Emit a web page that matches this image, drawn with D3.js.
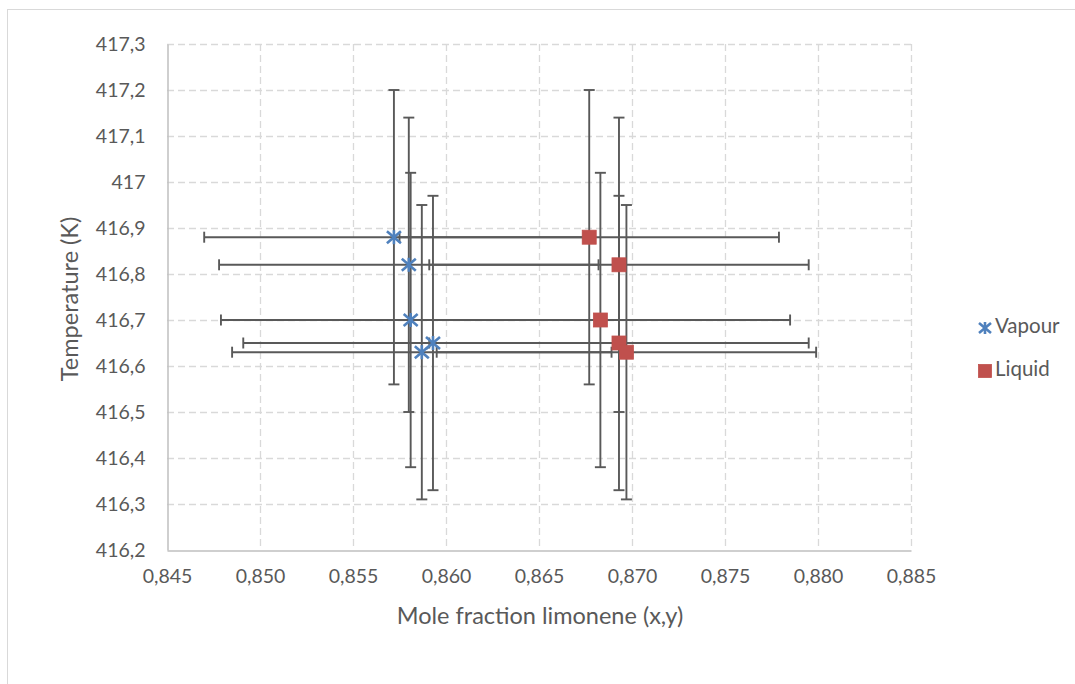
<!DOCTYPE html>
<html>
<head>
<meta charset="utf-8">
<script src="https://cdn.jsdelivr.net/npm/d3@7/dist/d3.min.js"></script>
<style>
  html, body { margin: 0; padding: 0; background: #ffffff; }
  svg { display: block; }
  text { font-family: Lato, "Open Sans", sans-serif; fill: #595959; }
</style>
</head>
<body>
<svg id="chart" width="1075" height="684"></svg>
<script>
// Equilibrium measurements: temperature with vapour / liquid mole fractions
const temperature = [416.88, 416.82, 416.70, 416.65, 416.63];
const vapourX = [0.8572, 0.8580, 0.8581, 0.8593, 0.8587];
const liquidX = [0.8677, 0.8693, 0.8683, 0.8693, 0.8697];
const xError = 0.0102;   // ± on mole fraction
const tError = 0.32;     // ± on temperature (K)

const xTicks = [0.845, 0.850, 0.855, 0.860, 0.865, 0.870, 0.875, 0.880, 0.885];
const xTickLabels = ["0,845", "0,850", "0,855", "0,860", "0,865", "0,870", "0,875", "0,880", "0,885"];
const yTicks = [416.2, 416.3, 416.4, 416.5, 416.6, 416.7, 416.8, 416.9, 417.0, 417.1, 417.2, 417.3];
const yTickLabels = ["416,2", "416,3", "416,4", "416,5", "416,6", "416,7", "416,8", "416,9", "417", "417,1", "417,2", "417,3"];

const seriesNames = ["Vapour", "Liquid"];
const seriesColors = ["#4f81bd", "#c0504d"];

const svg = d3.select("#chart");

// outer chart frame
svg.append("rect")
  .attr("x", 7.5).attr("y", 9.5)
  .attr("width", 1200).attr("height", 800)
  .attr("fill", "#ffffff").attr("stroke", "#d9d9d9").attr("stroke-width", 1);

const plot = { left: 167, right: 911, top: 44, bottom: 550 };

const x = d3.scaleLinear().domain([0.845, 0.885]).range([plot.left, plot.right]);
const y = d3.scaleLinear().domain([416.2, 417.3]).range([plot.bottom, plot.top]);

// gridlines
const grid = svg.append("g").attr("stroke", "#d9d9d9").attr("stroke-width", 1.3)
  .attr("stroke-dasharray", "7,4").attr("fill", "none");
grid.selectAll("line.h").data(yTicks.slice(1)).join("line")
  .attr("x1", plot.left).attr("x2", plot.right)
  .attr("y1", d => Math.round(y(d)) + 0.5).attr("y2", d => Math.round(y(d)) + 0.5);
grid.selectAll("line.v").data(xTicks.slice(1)).join("line")
  .attr("y1", plot.top).attr("y2", plot.bottom)
  .attr("x1", d => Math.round(x(d)) + 0.5).attr("x2", d => Math.round(x(d)) + 0.5);

// axes
const yAxis = d3.axisLeft(y).tickValues(yTicks)
  .tickFormat((d, i) => yTickLabels[i]).tickSize(0).tickPadding(22);
const xAxis = d3.axisBottom(x).tickValues(xTicks)
  .tickFormat((d, i) => xTickLabels[i]).tickSize(0).tickPadding(19);

const gy = svg.append("g").attr("transform", `translate(${plot.left + 0.5},0)`).call(yAxis);
const gx = svg.append("g").attr("transform", `translate(0,${plot.bottom + 0.5})`).call(xAxis);
[gx, gy].forEach(g => {
  g.select(".domain").attr("stroke", "#bfbfbf").attr("stroke-width", 1.5);
  g.selectAll("text").attr("font-family", "Lato, sans-serif").attr("font-size", 19.5).attr("fill", "#595959");
});

// axis titles
svg.append("text")
  .attr("x", (plot.left + plot.right) / 2 + 1).attr("y", 618)
  .attr("text-anchor", "middle").attr("dominant-baseline", "middle")
  .attr("font-size", 23.5).text("Mole fraction limonene (x,y)");
svg.append("text")
  .attr("transform", `translate(72,${(plot.top + plot.bottom) / 2 + 2}) rotate(-90)`)
  .attr("text-anchor", "middle").attr("dominant-baseline", "middle")
  .attr("font-size", 23.5).text("Temperature (K)");

// error bars
const points = [];
temperature.forEach((t, i) => {
  points.push({ s: 0, x: vapourX[i], t });
  points.push({ s: 1, x: liquidX[i], t });
});
const errColor = "#595959";
const cap = 5.5;
const eb = svg.append("g").attr("stroke", errColor).attr("stroke-width", 1.9).attr("fill", "none");
[0, 1].forEach(s => {
  const pts = points.filter(p => p.s === s);
  pts.forEach(p => {
    const cx = x(p.x), cy = y(p.t);
    const x0 = x(p.x - xError), x1 = x(p.x + xError);
    const y0 = y(p.t + tError), y1 = y(p.t - tError);
    eb.append("line").attr("x1", x0).attr("x2", x1).attr("y1", cy).attr("y2", cy);
    eb.append("line").attr("x1", x0).attr("x2", x0).attr("y1", cy - cap).attr("y2", cy + cap);
    eb.append("line").attr("x1", x1).attr("x2", x1).attr("y1", cy - cap).attr("y2", cy + cap);
    eb.append("line").attr("x1", cx).attr("x2", cx).attr("y1", y0).attr("y2", y1);
    eb.append("line").attr("x1", cx - cap).attr("x2", cx + cap).attr("y1", y0).attr("y2", y0);
    eb.append("line").attr("x1", cx - cap).attr("x2", cx + cap).attr("y1", y1).attr("y2", y1);
  });
});

// markers
function star(g, cx, cy, r, color) {
  const s = g.append("g").attr("stroke", color).attr("stroke-width", 2.6).attr("stroke-linecap", "butt");
  s.append("line").attr("x1", cx - r).attr("y1", cy - r * 0.85).attr("x2", cx + r).attr("y2", cy + r * 0.85);
  s.append("line").attr("x1", cx - r).attr("y1", cy + r * 0.85).attr("x2", cx + r).attr("y2", cy - r * 0.85);
  s.append("line").attr("x1", cx).attr("y1", cy - r).attr("x2", cx).attr("y2", cy + r);
}
function square(g, cx, cy, half, color) {
  g.append("rect").attr("x", cx - half).attr("y", cy - half)
    .attr("width", half * 2).attr("height", half * 2)
    .attr("fill", color).attr("stroke", color).attr("stroke-width", 0.8);
}
const mk = svg.append("g");
vapourX.forEach((v, i) => star(mk, x(v), y(temperature[i]), 7, seriesColors[0]));
liquidX.forEach((v, i) => square(mk, x(v), y(temperature[i]), 7, seriesColors[1]));

// legend
const legend = svg.append("g");
const legendY = [328, 371];
seriesNames.forEach((name, i) => {
  if (i === 0) star(legend, 985, legendY[i], 6, seriesColors[0]);
  else square(legend, 985, legendY[i], 6.5, seriesColors[1]);
  legend.append("text").attr("x", 995).attr("y", legendY[i])
    .attr("dominant-baseline", "middle").attr("font-size", 20.5).text(name);
});
</script>
</body>
</html>
